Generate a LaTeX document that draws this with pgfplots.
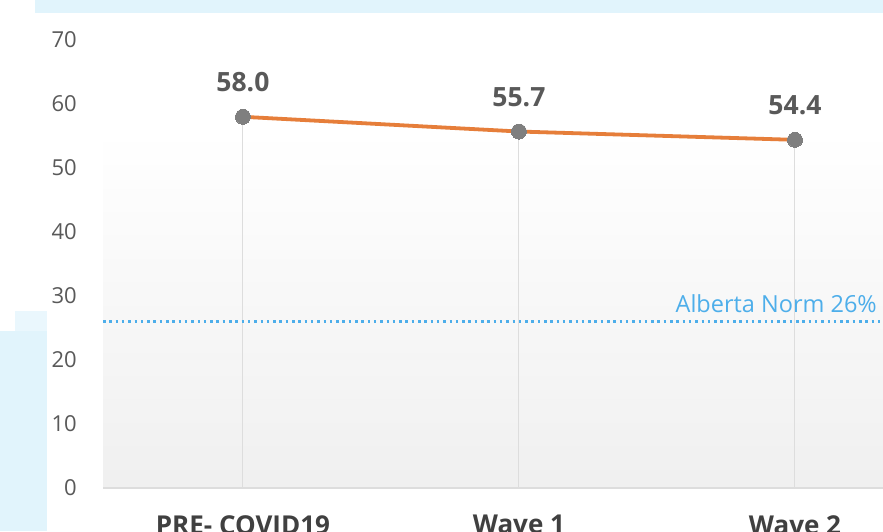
\documentclass[border=0pt]{standalone}
\usepackage{fontspec}
\setmainfont{Open Sans}
\usepackage{pgfplots}
\pgfplotsset{compat=1.18}
\definecolor{tickgray}{HTML}{595959}
\definecolor{catgray}{HTML}{404040}
\definecolor{lineorange}{HTML}{E67E3A}
\definecolor{markgray}{HTML}{7F7F7F}
\definecolor{normblue}{HTML}{4DAEEA}
\definecolor{deco}{HTML}{E1F4FC}
\definecolor{gridgray}{HTML}{DDDDDD}
\begin{document}
\begin{tikzpicture}[x=1pt,y=1pt]
\begin{scope}
\clip (0,0) rectangle (883,531);
\fill[white] (0,0) rectangle (883,531);
\fill[deco] (35,518) rectangle (883,531);
\fill[deco] (0,0) rectangle (47,200);
\fill[deco!70] (15,200) rectangle (47,220);
\begin{axis}[
  at={(103pt,43pt)}, anchor=south west,
  scale only axis, width=780pt, height=448pt,
  xmin=-0.507, xmax=2.319, ymin=0, ymax=70,
  axis line style={draw=none},
  xtick={0,1,2}, xticklabels={PRE- COVID19,Wave 1,Wave 2},
  ytick={0,10,...,70},
  major tick length=0pt,
  /pgf/number format/assume math mode=true,
  xticklabel style={font=\fontsize{26}{30}\selectfont\bfseries, text=catgray, anchor=north, inner sep=0pt, yshift=-27pt},
  yticklabel style={font=\fontsize{22}{26}\selectfont, text=tickgray, anchor=east, inner sep=0pt, xshift=-26pt},
  clip=false,
]
\fill[top color=white, bottom color=black!6] (axis cs:-0.507,0) rectangle (axis cs:2.319,56);
\draw[gridgray, line width=1.5pt] (axis cs:-0.507,0) -- (axis cs:2.319,0);
\addplot[ycomb, gridgray, line width=1pt, mark=none] coordinates {(0,58.0) (1,55.7) (2,54.4)};
\addplot[normblue, line width=2.5pt, line cap=butt, dash pattern=on 2.5pt off 3.8pt] coordinates {(-0.507,26) (2.319,26)};
\node[anchor=south east, text=normblue, font=\fontsize{23.5}{28}\selectfont, inner sep=0pt] at (axis cs:2.319,26) [xshift=-6pt, yshift=9pt] {Alberta Norm 26\%};
\addplot[lineorange, line width=3.8pt, mark=*, mark size=7.5pt, mark options={fill=markgray, draw=markgray, line width=0pt},
  nodes near coords, point meta=explicit symbolic,
  every node near coord/.style={font=\fontsize{26.5}{30}\selectfont\bfseries, text=tickgray, anchor=south, inner sep=0pt, yshift=25pt}]
  coordinates {(0,58.0) [58.0] (1,55.7) [55.7] (2,54.4) [54.4]};
\end{axis}
\end{scope}
\pgfresetboundingbox
\useasboundingbox (0,0) rectangle (883,531);
\end{tikzpicture}
\end{document}
